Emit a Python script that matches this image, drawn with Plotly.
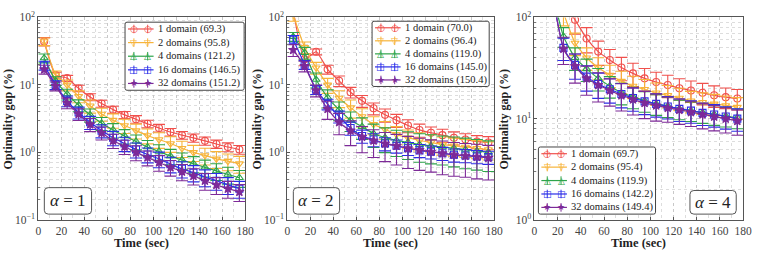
import plotly.graph_objects as go

# ---------------- data ----------------
TIME = [5, 15, 25, 35, 45, 55, 65, 75, 85, 95, 105, 115, 125, 135, 145, 155, 165, 175]
SERIES = ["1 domain", "2 domains", "4 domains", "16 domains", "32 domains"]

A1_SCORES = ["69.3", "95.8", "121.2", "146.5", "151.2"]
A2_SCORES = ["70.0", "96.4", "119.0", "145.0", "150.4"]
A3_SCORES = ["69.7", "95.4", "119.9", "142.2", "149.4"]

A1_D1 = [44, 14, 12.6, 8.9, 6.6, 5.3, 4.3, 3.6, 3.1, 2.65, 2.3, 2.0, 1.8, 1.64, 1.48, 1.33, 1.2, 1.1]
A1_D2 = [44, 14, 10, 6.8, 4.9, 3.7, 3.0, 2.5, 2.1, 1.78, 1.55, 1.35, 1.15, 1.0, 0.9, 0.8, 0.74, 0.68]
A1_D4 = [25, 11.5, 7.3, 5.0, 3.6, 2.7, 2.15, 1.75, 1.45, 1.2, 1.03, 0.88, 0.77, 0.68, 0.6, 0.53, 0.47, 0.42]
A1_D16 = [19.5, 10, 5.8, 3.9, 2.8, 2.1, 1.65, 1.35, 1.1, 0.93, 0.8, 0.67, 0.57, 0.5, 0.43, 0.38, 0.33, 0.29]
A1_D32 = [17, 9.6, 5.4, 3.7, 2.6, 1.95, 1.5, 1.22, 1.0, 0.84, 0.71, 0.6, 0.52, 0.45, 0.38, 0.33, 0.29, 0.26]

A2_D1 = [130, 24, 31, 17, 11.5, 7.8, 5.8, 4.5, 3.6, 3.0, 2.5, 2.15, 1.95, 1.8, 1.65, 1.55, 1.45, 1.4]
A2_D2 = [110, 36, 18, 10, 6.4, 4.6, 3.4, 2.6, 2.2, 1.85, 1.65, 1.5, 1.4, 1.3, 1.25, 1.2, 1.15, 1.1]
A2_D4 = [52, 30, 12, 6.5, 4.3, 3.0, 2.4, 1.9, 1.65, 1.5, 1.4, 1.3, 1.25, 1.2, 1.15, 1.1, 1.05, 1.0]
A2_D16 = [47, 20, 8.5, 5.2, 3.4, 2.3, 1.75, 1.55, 1.35, 1.25, 1.15, 1.07, 1.02, 0.97, 0.92, 0.9, 0.87, 0.85]
A2_D32 = [33, 19, 8.3, 4.4, 2.8, 2.1, 1.7, 1.5, 1.35, 1.25, 1.15, 1.08, 1.02, 0.97, 0.92, 0.89, 0.86, 0.83]

A3_D1 = [600, 250, 140, 95, 62, 46, 38, 32, 28, 25, 23, 21.5, 20, 19, 18, 17, 16.3, 15.8]
A3_D2 = [500, 200, 110, 56, 40, 32, 27, 23.5, 21, 19.5, 18, 17, 16, 15, 14.5, 14, 13.5, 13]
A3_D4 = [400, 180, 65, 40, 31, 25, 21, 18, 16.5, 15, 14, 13.3, 12.5, 12, 11.5, 11, 10.6, 10.2]
A3_D16 = [400, 170, 50, 34, 26, 22, 19.5, 17.5, 16, 14.8, 14, 13.2, 12.5, 12, 11.4, 11, 10.5, 10]
A3_D32 = [400, 170, 49, 33, 25, 21.5, 19, 17, 15.5, 14.3, 13.5, 12.8, 12.2, 11.6, 11, 10.5, 10, 9.5]

# relative error (%) per point
A1_E1 = [14, 10, 10, 11, 12, 12, 12, 12, 13, 13, 13, 13, 13, 14, 14, 14, 15, 15]
A1_E2 = [13, 15, 18, 20, 22, 22, 24, 24, 25, 25, 26, 26, 27, 27, 28, 28, 28, 28]
A1_E4 = [15, 15, 18, 20, 22, 22, 24, 24, 25, 25, 26, 26, 27, 27, 28, 28, 28, 28]
A1_E16 = [15, 15, 18, 20, 22, 22, 24, 24, 25, 25, 26, 26, 27, 27, 28, 28, 28, 28]
A1_E32 = [15, 15, 18, 20, 22, 22, 24, 24, 25, 25, 26, 26, 27, 27, 28, 28, 28, 28]

A2_E1 = [20, 20, 10, 15, 18, 18, 20, 20, 22, 22, 22, 22, 22, 22, 22, 22, 22, 22]
A2_E2 = [20, 20, 20, 25, 28, 30, 30, 30, 30, 30, 30, 30, 30, 30, 30, 30, 30, 30]
A2_E4 = [15, 20, 25, 30, 30, 32, 35, 38, 40, 42, 44, 45, 46, 46, 47, 48, 48, 48]
A2_E16 = [15, 15, 15, 18, 20, 22, 22, 22, 22, 22, 22, 22, 22, 22, 22, 22, 22, 22]
A2_E32 = [20, 18, 20, 30, 35, 40, 42, 44, 46, 48, 50, 50, 50, 52, 52, 52, 53, 53]

A3_E1 = [25, 25, 25, 28, 28, 27, 27, 26, 26, 25, 25, 25, 24, 24, 24, 24, 23, 23]
A3_E2 = [25, 25, 25, 25, 25, 25, 25, 25, 25, 25, 25, 25, 25, 24, 24, 24, 24, 24]
A3_E4 = [22, 22, 22, 25, 25, 25, 24, 24, 24, 23, 23, 23, 22, 22, 22, 22, 22, 22]
A3_E16 = [25, 25, 25, 28, 28, 28, 27, 27, 26, 26, 26, 25, 25, 25, 25, 25, 25, 25]
A3_E32 = [30, 30, 30, 32, 32, 32, 30, 30, 30, 30, 30, 28, 28, 28, 28, 28, 28, 28]

ALPHAS = ["1", "2", "4"]

# ---------------- styling ----------------
COLORS = ["#f0504c", "#f7b43a", "#2ea44a", "#2b2ee8", "#7d2a98"]
SYMBOLS = ["circle-open", "triangle-down-open", "triangle-up-open", "square-open", "star"]
GLYPHS = ["○", "▽", "△", "□", "★"]
SERIF = "Liberation Serif"

panels = [
    ([A1_D1, A1_D2, A1_D4, A1_D16, A1_D32], [A1_E1, A1_E2, A1_E4, A1_E16, A1_E32], A1_SCORES),
    ([A2_D1, A2_D2, A2_D4, A2_D16, A2_D32], [A2_E1, A2_E2, A2_E4, A2_E16, A2_E32], A2_SCORES),
    ([A3_D1, A3_D2, A3_D4, A3_D16, A3_D32], [A3_E1, A3_E2, A3_E4, A3_E16, A3_E32], A3_SCORES),
]

W, H = 759, 257
xdoms = [(36, 246), (289, 499), (540, 752)]
ytop, ybot = 10, 224
legend_boxes = [(124, 245, 15, 87), (375, 494, 14, 83), (544, 663, 147, 218)]
alpha_boxes = [(42, 90, 190, 218), (295, 342, 190, 218), (698, 745, 193, 218)]


def PX(v):
    return v / W


def PY(v):
    return 1 - v / H


def rounded_rect(x0, x1, y0, y1, r):
    X0, X1, Y0, Y1 = PX(x0), PX(x1), PY(y0), PY(y1)
    rx, ry = r / W, r / H
    return (f"M {X0 + rx},{Y0} L {X1 - rx},{Y0} Q {X1},{Y0} {X1},{Y0 - ry} "
            f"L {X1},{Y1 + ry} Q {X1},{Y1} {X1 - rx},{Y1} L {X0 + rx},{Y1} "
            f"Q {X0},{Y1} {X0},{Y1 + ry} L {X0},{Y0 - ry} Q {X0},{Y0} {X0 + rx},{Y0} Z")


fig = go.Figure()
for p, (series, errs, scores) in enumerate(panels):
    ax = "" if p == 0 else str(p + 1)
    for i in range(5):
        vals = series[i]
        e = [v * pe / 100.0 for v, pe in zip(vals, errs[i])]
        fig.add_trace(go.Scatter(
            x=TIME, y=vals, xaxis="x" + ax, yaxis="y" + ax,
            name=f"{SERIES[i]} ({scores[i]})", showlegend=False,
            mode="lines+markers",
            line=dict(color=COLORS[i], width=1.2, shape="spline", smoothing=0.5),
            marker=dict(symbol=SYMBOLS[i], size=7, color=COLORS[i],
                        line=dict(color=COLORS[i], width=1.1)),
            error_y=dict(type="data", array=e, symmetric=True, color=COLORS[i],
                         thickness=1.1, width=6),
        ))

ylog_ticks = {0: [0.1, 1, 10, 100], 1: [0.1, 1, 10, 100], 2: [1, 10, 100]}
ylog_text = {0.1: "10<sup>−1</sup>", 1: "10<sup>0</sup>", 10: "10<sup>1</sup>", 100: "10<sup>2</sup>"}
minor_vals = [m * d for d in [0.1, 1, 10] for m in range(2, 10)]

layout = dict(
    width=W, height=H, margin=dict(l=0, r=0, t=0, b=0),
    paper_bgcolor="white", plot_bgcolor="white", showlegend=False,
    font=dict(family=SERIF, size=11.5, color="#222"),
)
for p in range(3):
    ax = "" if p == 0 else str(p + 1)
    x0, x1 = xdoms[p]
    yr = [-1, 2] if p < 2 else [0, 2]
    layout["xaxis" + ax] = dict(
        domain=[PX(x0), PX(x1)], range=[0, 180], anchor="y" + ax,
        tickvals=[0, 20, 40, 60, 80, 100, 120, 140, 160, 180],
        showgrid=True, gridcolor="#c8c8c8", griddash="dot", gridwidth=1,
        minor=dict(dtick=10, tick0=0, showgrid=True, gridcolor="#dddddd", griddash="dot"),
        showline=True, linecolor="#555", linewidth=1, mirror=True,
        ticks="inside", ticklen=3, tickcolor="#555",
        tickfont=dict(family=SERIF, size=11.5, color="#444"),
        zeroline=False,
    )
    layout["yaxis" + ax] = dict(
        domain=[PY(ybot), PY(ytop)], type="log", range=yr, anchor="x" + ax,
        tickvals=ylog_ticks[p], ticktext=[ylog_text[v] for v in ylog_ticks[p]],
        showgrid=True, gridcolor="#c8c8c8", griddash="dot", gridwidth=1,
        minor=dict(tickvals=minor_vals, showgrid=True, gridcolor="#dddddd", griddash="dot",
                   ticks="inside", ticklen=2, tickcolor="#777"),
        showline=True, linecolor="#555", linewidth=1, mirror=True,
        ticks="inside", ticklen=3, tickcolor="#555",
        tickfont=dict(family=SERIF, size=11.5, color="#444"),
        zeroline=False,
    )

annotations = []
shapes = []
for p in range(3):
    x0, x1 = xdoms[p]
    # alpha box
    bx0, bx1, by0, by1 = alpha_boxes[p]
    shapes.append(dict(type="path", xref="paper", yref="paper", layer="above",
                       path=rounded_rect(bx0, bx1, by0, by1, 4),
                       fillcolor="white", line=dict(color="#555", width=1)))
    annotations.append(dict(
        text=f"<i>α</i> = {ALPHAS[p]}", xref="paper", yref="paper",
        x=PX((bx0 + bx1) / 2), y=PY((by0 + by1) / 2), xanchor="center", yanchor="middle",
        showarrow=False, font=dict(family=SERIF, size=17, color="#222"),
    ))
    # axis titles
    annotations.append(dict(
        text="<b>Time (sec)</b>", xref="paper", yref="paper",
        x=PX((x0 + x1) / 2), y=PY(248.5), xanchor="center", yanchor="middle", showarrow=False,
        font=dict(family=SERIF, size=12.5, color="#222"),
    ))
    annotations.append(dict(
        text="<b>Optimality gap (%)</b>", xref="paper", yref="paper",
        x=PX(x0 - 31), y=PY((ytop + ybot) / 2), xanchor="center", yanchor="middle",
        showarrow=False, textangle=-90,
        font=dict(family=SERIF, size=12, color="#222"),
    ))
    # legend
    lx0, lx1, ly0, ly1 = legend_boxes[p]
    shapes.append(dict(type="path", xref="paper", yref="paper", layer="above",
                       path=rounded_rect(lx0, lx1, ly0, ly1, 2),
                       fillcolor="white", line=dict(color="#444", width=1)))
    scores = panels[p][2]
    rowh = (ly1 - ly0) / 5
    for i in range(5):
        cy = ly0 + (i + 0.5) * rowh
        shapes.append(dict(type="line", xref="paper", yref="paper", layer="above",
                           x0=PX(lx0 + 3), x1=PX(lx0 + 29), y0=PY(cy), y1=PY(cy),
                           line=dict(color=COLORS[i], width=1.2)))
        for mx in (lx0 + 9, lx0 + 23):
            shapes.append(dict(type="line", xref="paper", yref="paper", layer="above",
                               x0=PX(mx), x1=PX(mx), y0=PY(cy - 4.5), y1=PY(cy + 4.5),
                               line=dict(color=COLORS[i], width=1)))
            annotations.append(dict(
                text=GLYPHS[i], xref="paper", yref="paper", x=PX(mx), y=PY(cy),
                xanchor="center", yanchor="middle", showarrow=False,
                font=dict(family="DejaVu Sans", size=9, color=COLORS[i]),
            ))
        annotations.append(dict(
            text=f"{SERIES[i]} ({scores[i]})", xref="paper", yref="paper",
            x=PX(lx0 + 31), y=PY(cy), xanchor="left", yanchor="middle", showarrow=False,
            font=dict(family=SERIF, size=10.5, color="#222"),
        ))

layout["annotations"] = annotations
layout["shapes"] = shapes

fig.update_layout(**layout)
fig.write_html("out.html")
